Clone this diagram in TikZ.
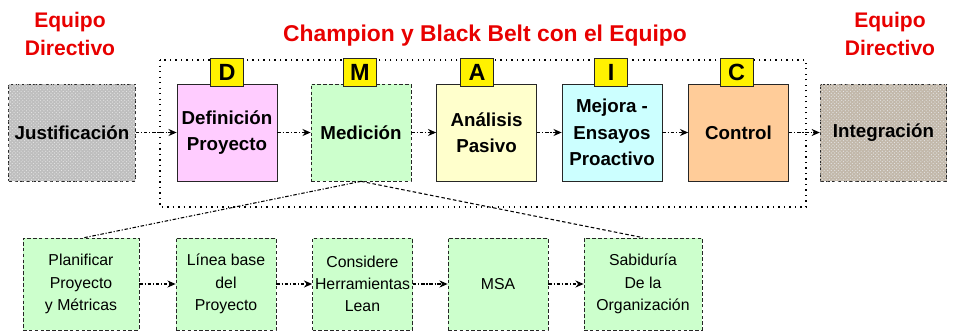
\documentclass[tikz,border=0pt]{standalone}
\usepackage{fontspec}
\setmainfont{Liberation Sans}
\usepackage{tikz}
\usetikzlibrary{arrows.meta,patterns}

\definecolor{defpink}{HTML}{FFCCFF}
\definecolor{medgreen}{HTML}{CCFFCC}
\definecolor{anayellow}{HTML}{FFFFCC}
\definecolor{mejcyan}{HTML}{CCFFFF}
\definecolor{ctrlorange}{HTML}{FFCC99}
\definecolor{justgray}{HTML}{BEBEBE}
\definecolor{integtan}{HTML}{C2B8AA}
\definecolor{titlered}{HTML}{E80000}

\tikzset{
  phase/.style={draw=black!85, line width=0.6pt, minimum width=3cm, minimum height=2.91cm,
    align=center, inner sep=1pt, font=\bfseries\fontsize{16}{22.5}\selectfont},
  stone/.style={phase, densely dashed, minimum width=3.8cm,
    postaction={pattern=crosshatch dots, pattern color=white!80!gray}},
  subbox/.style={draw=black!85, densely dashed, line width=0.6pt, fill=medgreen,
    minimum width=3cm, minimum height=2.76cm, align=center, inner sep=1pt,
    font=\fontsize{13.5}{19}\selectfont},
  tag/.style={draw=black!85, fill=yellow, minimum width=1cm, minimum height=0.84cm,
    inner sep=0pt, font=\bfseries\fontsize{20}{20}\selectfont},
  flow/.style={line width=0.9pt, dash pattern=on 3pt off 1.5pt on 1pt off 1.5pt,
    -{Stealth[length=7pt,width=6pt]}},
  title/.style={text=titlered, align=center, font=\bfseries\fontsize{18}{24}\selectfont},
}

\begin{document}
\begin{tikzpicture}[x=0.03cm, y=-0.03cm]
    \useasboundingbox (0,0) rectangle (953,334);

    % Titles
    \node[title] (dirL) at (70,34) {Equipo\\Directivo};
    \node[title] (dirR) at (890,34) {Equipo\\Directivo};
    \node[title, font=\bfseries\fontsize{19.5}{22}\selectfont] (champ) at (485,36) {Champion y Black Belt con el Equipo};

    % Team frame
    \draw[line width=0.9pt, dash pattern=on 1.2pt off 3.5pt] (160,60) rectangle (806,207);

    % Main phases
    \node[stone, fill=justgray] (just) at (72,132.5) {Justificación};
    \node[phase, fill=defpink] (def) at (227,132.5) {Definición\\Proyecto};
    \node[phase, fill=medgreen, densely dashed] (med) at (361,132.5) {Medición};
    \node[phase, fill=anayellow] (ana) at (486.5,132.5) {Análisis\\Pasivo};
    \node[phase, fill=mejcyan] (mej) at (612,132.5) {Mejora -\\Ensayos\\Proactivo};
    \node[phase, fill=ctrlorange] (ctrl) at (738.5,132.5) {Control};
    \node[stone, fill=integtan] (integ) at (883.5,132.5) {Integración};

    % DMAIC letters
    \foreach \l/\x in {D/227, M/360, A/477, I/611, C/736.5}
        \node[tag] (tag\l) at (\x,72) {\l};

    % Flow of phases
    \draw[flow] (just) -- (def);
    \draw[flow] (def) -- (med);
    \draw[flow] (med) -- (ana);
    \draw[flow] (ana) -- (mej);
    \draw[flow] (mej) -- (ctrl);
    \draw[flow] (ctrl) -- (integ);

    % Steps of Medicion
    \node[subbox, minimum width=3.48cm] (plan) at (81,284) {Planificar\\Proyecto\\y Métricas};
    \node[subbox] (base) at (226,284) {Línea base\\del\\Proyecto};
    \node[subbox] (herr) at (362.5,284) {Considere\\Herramientas\\Lean};
    \node[subbox] (msa) at (498,284) {MSA};
    \node[subbox, minimum width=3.54cm] (sab) at (643,284) {Sabiduría\\De la\\Organización};

    \draw[flow] (plan) -- (base);
    \draw[flow] (base) -- (herr);
    \draw[flow] (herr) -- (msa);
    \draw[flow] (msa) -- (sab);

    % Zoom lines
    \draw[line width=0.9pt, dash pattern=on 3pt off 1.5pt on 1pt off 1.5pt] (med.south) -- ([xshift=0.1cm]plan.north);
    \draw[line width=0.9pt, densely dashed] (med.south) -- (sab.north);
\end{tikzpicture}
\end{document}
